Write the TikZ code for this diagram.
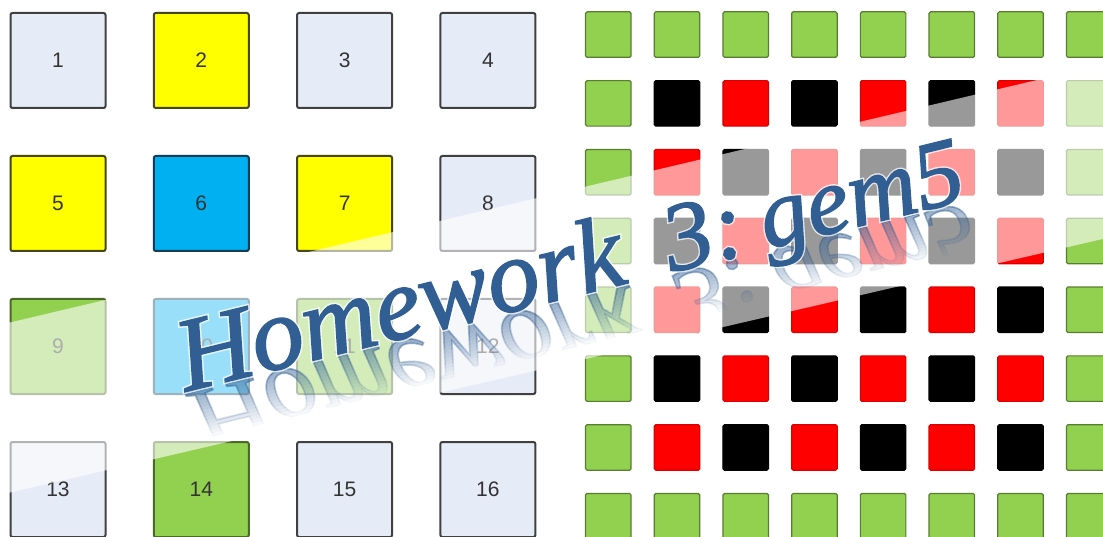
\documentclass[tikz,border=0pt]{standalone}
\usepackage{fontspec}
\usepackage{graphicx}
\setmainfont{Liberation Sans}
\newfontface\hwfont{Liberation Serif Italic}[FakeBold=1.6]
\newfontface\hwhalo{Liberation Serif Italic}[FakeBold=4.5]
\definecolor{lightsq}{RGB}{230,236,247}
\definecolor{sqyellow}{RGB}{255,255,0}
\definecolor{sqblue}{RGB}{0,176,240}
\definecolor{sqgreen}{RGB}{146,208,80}
\definecolor{sqred}{RGB}{255,0,0}
\definecolor{edgegray}{RGB}{64,64,64}
\definecolor{edgeyellow}{RGB}{70,70,20}
\definecolor{edgeblue}{RGB}{15,60,85}
\definecolor{edgegreen}{RGB}{75,105,40}
\definecolor{hwblue}{RGB}{49,95,148}
\definecolor{numgray}{RGB}{51,51,51}
\newcommand\HWsize[1]{\fontsize{#1}{#1}\selectfont}
\newcommand\HWplain[1]{#1}
\newcommand\HWmirr[1]{\scalebox{1}[-1]{#1}}
\newcommand\HWline[4]{%
  \node[hwword,#1,font=#4\HWsize{104}] (#3a) at (0,0) {#2{Homework}};
  \node[hwword,#1,font=#4\HWsize{97}] (#3b) at (500,0) {#2{3:}};
  \node[hwword,#1,font=#4\HWsize{96}] (#3c) at (598,0) {#2{gem5}};
}
\begin{document}
\begin{tikzpicture}[x=1pt,y=-1pt,
  lsq/.style={line width=2pt, rounded corners=2pt, minimum size=95pt, inner sep=0pt,
    font=\fontsize{21}{21}\selectfont, text=numgray},
  sqL/.style={lsq, fill=lightsq, draw=edgegray},
  sqY/.style={lsq, fill=sqyellow, draw=edgeyellow},
  sqB/.style={lsq, fill=sqblue, draw=edgeblue},
  sqG/.style={lsq, fill=sqgreen, draw=edgegreen},
  rsq/.style={line width=1.2pt, rounded corners=1.5pt, minimum size=45.5pt, inner sep=0pt},
  gsq/.style={rsq, fill=sqgreen, draw=sqgreen!60!black},
  ksq/.style={rsq, fill=black, draw=black},
  redsq/.style={rsq, fill=sqred, draw=sqred!85!black},
  hwword/.style={transform shape, anchor=base west, inner sep=0pt, outer sep=0pt, text=hwblue}]
\useasboundingbox (0,0) rectangle (1103,537);
\fill[white] (0,0) rectangle (1103,537);
\clip (0,0) rectangle (1103,537);
% left grid
\foreach \n/\s [count=\k from 0] in {1/sqL,2/sqY,3/sqL,4/sqL,5/sqY,6/sqB,7/sqY,8/sqL,
    9/sqG,10/sqB,11/sqG,12/sqL,13/sqL,14/sqG,15/sqL,16/sqL} {
  \pgfmathtruncatemacro\col{mod(\k,4)}
  \pgfmathtruncatemacro\row{div(\k,4)}
  \node[\s] (L\n) at ({58+143.3*\col},{60.5+143*\row}) {\n};
}
% right grid
\foreach \r in {1,...,8} {
  \foreach \c in {1,...,8} {
    \pgfmathtruncatemacro\t{(\r==1||\r==8||\c==1||\c==8) ? 0 : (mod(\r+\c,2)==0 ? 1 : 2)}
    \ifcase\t \def\st{gsq}\or \def\st{ksq}\or \def\st{redsq}\fi
    \node[\st] (R\r-\c) at ({608.3+68.7*(\c-1)},{34.6+68.8*(\r-1)}) {};
  }
}
% translucent band
\fill[white, opacity=0.6] (-5,326.0) -- (1110,62.8) -- (1110,237.3) -- (-5,496.0) -- cycle;
% title with reflection
\begin{scope}[shift={(186,391.5)}, rotate=13.8]
  \foreach \i in {0,...,13} {
    \pgfmathsetmacro\ya{1+3.5*\i}
    \pgfmathsetmacro\yb{4.5+3.5*\i}
    \pgfmathsetmacro\op{0.5*(1-\i/14)}
    \begin{scope}
      \clip (-40,\ya) rectangle (1000,\yb);
      \begin{scope}[shift={(0,2)}]
        \HWline{opacity=\op}{\HWmirr}{refl\i}{\hwfont}
      \end{scope}
    \end{scope}
  }
  \HWline{text=white, opacity=0.75}{\HWplain}{halo}{\hwhalo}
  \HWline{}{\HWplain}{title}{\hwfont}
\end{scope}
\end{tikzpicture}
\end{document}
